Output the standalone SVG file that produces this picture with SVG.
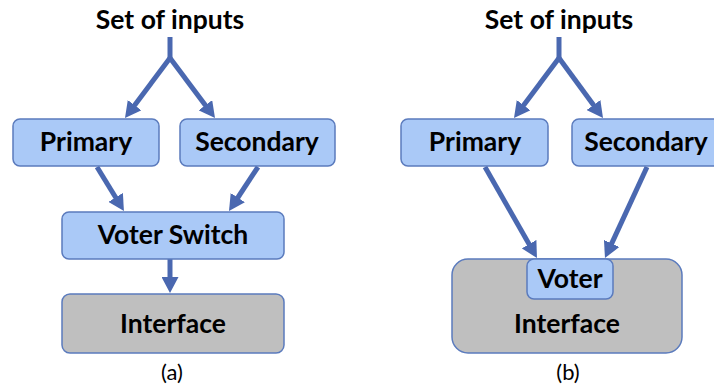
<svg xmlns="http://www.w3.org/2000/svg" width="714" height="385" viewBox="0 0 714 385">
<defs>
<style>
.t{font-family:Lato,"Liberation Sans",sans-serif;font-weight:bold;font-size:26.5px;fill:#000;text-anchor:middle}
.c{font-family:Lato,"Liberation Sans",sans-serif;font-size:22px;fill:#000;text-anchor:middle}
.b{fill:#aac9f7;stroke:#5b7bbd;stroke-width:1.5}
.g{fill:#bfbfbf;stroke:#5b7bbd;stroke-width:1.5}
.a{fill:none;stroke:#4a68b0;stroke-width:5;marker-end:url(#ah)}
.s{fill:none;stroke:#4a68b0;stroke-width:5}
</style>
<marker id="ah" markerUnits="userSpaceOnUse" markerWidth="17" markerHeight="17" refX="4" refY="8.5" orient="auto">
<path d="M0,0 L16,8.5 L0,17 Z" fill="#4a68b0"/>
</marker>
</defs>
<g id="connectors">
<path class="s" d="M170,37 L170,58"/>
<line class="a" x1="170" y1="58" x2="132.2" y2="108.4"/>
<line class="a" x1="170" y1="58" x2="207.8" y2="108.4"/>
<line class="a" x1="97" y1="167" x2="117.7" y2="200.8"/>
<line class="a" x1="258" y1="167" x2="235.6" y2="201"/>
<line class="a" x1="170" y1="259" x2="170" y2="281"/>
<path class="s" d="M559,37 L559,58"/>
<line class="a" x1="559" y1="58" x2="521.2" y2="108.4"/>
<line class="a" x1="559" y1="58" x2="595.9" y2="108.3"/>
<line class="a" x1="485" y1="167" x2="531" y2="247.6"/>
<line class="a" x1="647" y1="167" x2="610" y2="247.1"/>
</g>
<g id="inputs-a"><text class="t" x="170" y="29">Set of inputs</text></g>
<g id="primary-a"><rect class="b" x="13" y="119" width="146" height="47" rx="7"/><text class="t" x="86" y="151">Primary</text></g>
<g id="secondary-a"><rect class="b" x="180" y="119" width="155" height="47" rx="7"/><text class="t" x="257" y="151">Secondary</text></g>
<g id="voterswitch-a"><rect class="b" x="62" y="212" width="222" height="47" rx="7"/><text class="t" x="173" y="244">Voter Switch</text></g>
<g id="interface-a"><rect class="g" x="62" y="294" width="222" height="59" rx="8"/><text class="t" x="173" y="333">Interface</text></g>
<g id="label-a"><text class="c" x="172" y="380">(a)</text></g>
<g id="inputs-b"><text class="t" x="559" y="29">Set of inputs</text></g>
<g id="primary-b"><rect class="b" x="401" y="119" width="147" height="47" rx="7"/><text class="t" x="475" y="151">Primary</text></g>
<g id="secondary-b"><rect class="b" x="572" y="119" width="150" height="47" rx="7"/><text class="t" x="646" y="151">Secondary</text></g>
<g id="interface-b"><rect class="g" x="452" y="259" width="230" height="94" rx="16"/><text class="t" x="567" y="333">Interface</text></g>
<g id="voter-b"><rect class="b" x="527" y="259" width="86" height="40" rx="7"/><text class="t" x="570" y="288">Voter</text></g>
<g id="label-b"><text class="c" x="568" y="380">(b)</text></g>
</svg>
